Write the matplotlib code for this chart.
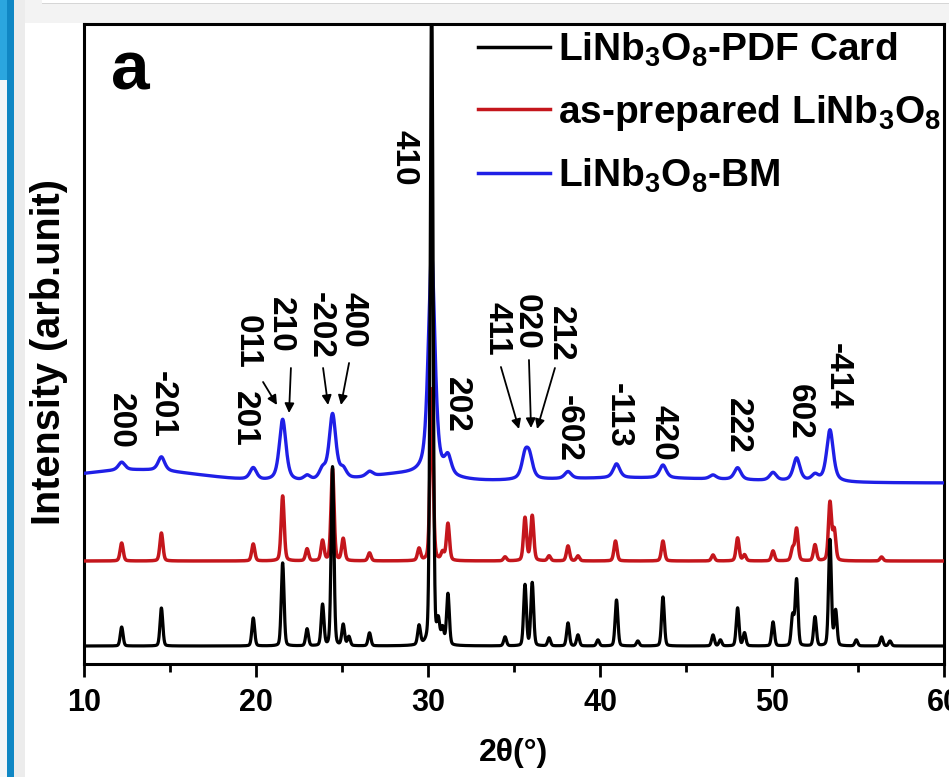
import numpy as np
import matplotlib
matplotlib.use('Agg')
import matplotlib.pyplot as plt
from matplotlib.patches import Rectangle
from matplotlib.lines import Line2D
from matplotlib.ticker import MultipleLocator

plt.rcParams['font.family'] = ['Liberation Sans', 'DejaVu Sans']
plt.rcParams['font.weight'] = 'bold'
plt.rcParams['mathtext.fontset'] = 'custom'
plt.rcParams['mathtext.rm'] = 'Liberation Sans:bold'
plt.rcParams['mathtext.it'] = 'Liberation Sans:bold'
plt.rcParams['mathtext.bf'] = 'Liberation Sans:bold'
plt.rcParams['mathtext.default'] = 'bf'

# ---------------- data ----------------
series_names = ['LiNb$_3$O$_8$-PDF Card', 'as-prepared LiNb$_3$O$_8$', 'LiNb$_3$O$_8$-BM']
series_colors = ['#000000', '#c4161c', '#1f1fe6']

# PDF card peaks (2theta, intensity)
pdf_pos = [12.19, 14.50, 19.84, 21.55, 22.97, 23.87, 24.45, 25.07, 25.40, 26.60,
           29.48, 30.21, 30.60, 30.85, 31.16, 34.48, 35.64, 36.06, 37.04, 38.14,
           38.72, 39.88, 40.96, 42.20, 43.66, 46.57, 47.00, 48.00, 48.40, 50.06,
           51.20, 51.43, 52.50, 53.37, 53.70, 54.90, 56.37, 56.86]
pdf_int = [19, 38, 28, 83, 17, 41, 179, 21, 9, 13,
           19, 660, 22, 16, 51, 9, 61, 63, 8, 23,
           11, 6, 46, 5, 49, 11, 6, 38, 13, 24,
           30, 66, 29, 106, 35, 6, 9, 5]
pdf_base = 18

# as-prepared LiNb3O8 peaks
asp_pos = [12.19, 14.50, 19.84, 21.55, 22.97, 23.87, 24.45, 25.07, 26.60, 29.48,
           30.21, 30.85, 31.16, 34.48, 35.64, 36.06, 37.04, 38.14, 38.72, 40.90,
           43.66, 46.57, 48.00, 48.40, 50.06, 51.20, 51.43, 52.50, 53.37, 53.62,
           56.37]
asp_int = [18, 28, 17, 65, 12, 20, 92, 22, 8, 12,
           172, 8, 37, 4, 43, 45, 5, 15, 5, 20,
           20, 6, 23, 6, 10, 12, 32, 16, 58, 30,
           4]
asp_base = 103

# ball-milled LiNb3O8 peaks
bm_pos = [12.19, 14.50, 19.84, 21.55, 22.97, 23.87, 24.45, 25.07, 26.60, 30.21,
          31.16, 35.64, 35.90, 38.14, 40.96, 43.66, 46.57, 48.00, 50.06, 51.43,
          52.50, 53.37]
bm_int = [8, 14, 12, 62, 5, 10, 66, 9, 5, 222,
          18, 22, 20, 7, 14, 13, 4, 12, 8, 23,
          6, 52]
bm_hump_pos = [13.0, 28.5, 42.0]
bm_hump_int = [13, 8, 5]
bm_hump_fwhm = [9.0, 5.0, 14.0]
bm_base = 181

hkl_labels = ['200', '-201', '201', '011', '210', '-202', '400', '410', '202',
              '411', '020', '212', '-602', '-113', '420', '222', '602', '-414']
hkl_x = [12.09, 14.53, 19.30, 19.48, 21.40, 23.72, 25.64, 28.60, 31.63,
         34.01, 35.70, 37.67, 38.14, 41.05, 43.66, 48.00, 51.57, 53.77]
hkl_y = [271, 293, 273, 349, 367, 372, 372, 534, 287,
         362, 370, 358, 269, 281, 259, 266, 280, 321]

arrow_x0 = [20.41, 22.03, 23.90, 25.41, 34.24, 35.87, 37.38]
arrow_y0 = [282, 296, 296, 301, 297, 304, 296]
arrow_x1 = [21.22, 21.92, 24.19, 24.94, 35.29, 35.99, 36.34]
arrow_y1 = [259, 251, 259, 259, 235, 236, 235]

# ---------------- helpers ----------------
two_theta = np.arange(10.0, 60.0001, 0.01)


def pv(x, pos, amp, fwhm, eta):
    g = np.exp(-4 * np.log(2) * ((x - pos) / fwhm) ** 2)
    l = 1.0 / (1.0 + 4 * ((x - pos) / fwhm) ** 2)
    return amp * (eta * l + (1 - eta) * g)


def pattern(pos, amp, fwhm, eta, base):
    y = np.full_like(two_theta, float(base))
    for p, a in zip(pos, amp):
        y += pv(two_theta, p, a, fwhm, eta)
    return y


y_pdf = pattern(pdf_pos, pdf_int, 0.19, 0.2, pdf_base)
y_asp = pattern(asp_pos, asp_int, 0.21, 0.3, asp_base)
y_bm = pattern(bm_pos, bm_int, 0.46, 0.6, bm_base)
for p, a, w in zip(bm_hump_pos, bm_hump_int, bm_hump_fwhm):
    y_bm += pv(two_theta, p, a, w, 0.0)

# ---------------- figure ----------------
W, H = 949, 777
fig = plt.figure(figsize=(W / 100, H / 100), dpi=100)
fig.patch.set_facecolor('white')


def rect(x0, y0, x1, y1, color):
    fig.patches.append(Rectangle((x0 / W, 1 - y1 / H), (x1 - x0) / W, (y1 - y0) / H,
                                 transform=fig.transFigure, color=color, lw=0, zorder=-10))


rect(14, 0, W, 23, '#f3f3f3')
rect(42, 0, W, 3, '#ffffff')
rect(42, 3, W, 4, '#d6d6d6')
rect(14, 0, 25, H, '#ececec')
rect(0, 0, 7, 80, '#2ba6df')
rect(0, 80, 7, H, '#f4f6f8')
rect(7, 0, 14, H, '#1087c4')

ax = fig.add_axes([84 / W, 1 - 664 / H, 860 / W, 640 / H])
ax.plot(two_theta, y_bm, color=series_colors[2], lw=2.4, label=series_names[2], zorder=3)
ax.plot(two_theta, y_asp, color=series_colors[1], lw=2.5, label=series_names[1], zorder=4)
ax.plot(two_theta, y_pdf, color=series_colors[0], lw=2.3, label=series_names[0], zorder=5)

ax.set_xlim(10, 60)
ax.set_ylim(0, 640)
ax.set_yticks([])
ax.xaxis.set_major_locator(MultipleLocator(10))
ax.xaxis.set_minor_locator(MultipleLocator(5))
ax.tick_params(axis='x', which='major', direction='out', length=9, width=2, pad=8, labelsize=22)
ax.tick_params(axis='x', which='minor', direction='out', length=5.5, width=2)
for lab in ax.get_xticklabels():
    lab.set_fontweight('bold')
for s in ax.spines.values():
    s.set_linewidth(2.2)

ax.set_xlabel('2θ(°)', fontsize=23, fontweight='bold')
ax.xaxis.set_label_coords(0.5, -0.115)
ax.set_ylabel('Intensity (arb.unit)', fontsize=28.5, fontweight='bold')
ax.yaxis.set_label_coords(-0.019, 0.4875)

ax.text(0.0535, 0.897, 'a', transform=ax.transAxes, ha='center', va='baseline',
        fontsize=50, fontweight='bold')

for lab, x, y in zip(hkl_labels, hkl_x, hkl_y):
    ax.text(x, y, lab, rotation=-90, ha='center', va='top', fontsize=24,
            fontweight='bold', zorder=6)

for x0, y0, x1, y1 in zip(arrow_x0, arrow_y0, arrow_x1, arrow_y1):
    ax.annotate('', xy=(x1, y1), xytext=(x0, y0),
                arrowprops=dict(arrowstyle='-|>', color='black', lw=1.3,
                                mutation_scale=14, shrinkA=0, shrinkB=0), zorder=6)

handles = [Line2D([], [], color=c, lw=2.5) for c in series_colors]
leg = ax.legend(handles, series_names, loc='upper left', bbox_to_anchor=(0.458, 0.990),
                frameon=False, fontsize=28, handlelength=1.85, handletextpad=0.22,
                labelspacing=0.62, borderpad=0, borderaxespad=0)
for t in leg.get_texts():
    t.set_fontweight('bold')

fig.savefig('out.png', dpi=100)
